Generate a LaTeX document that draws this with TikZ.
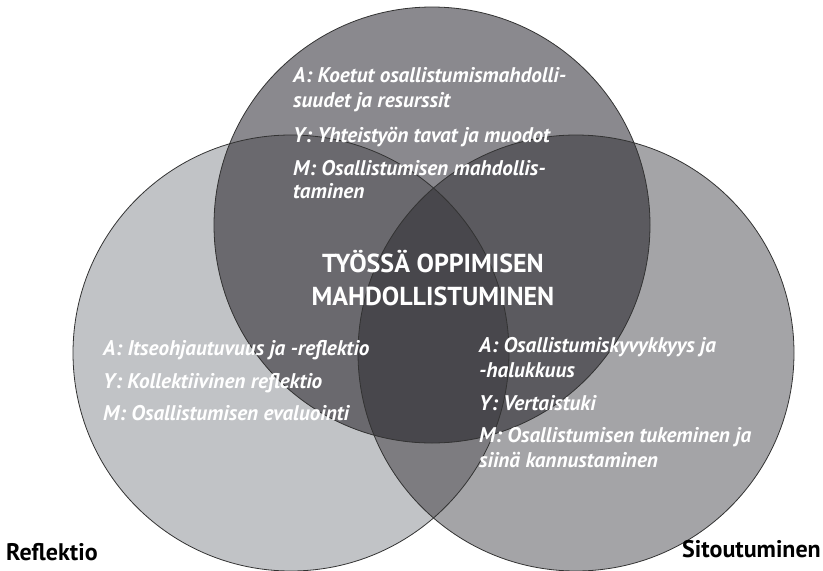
\documentclass[tikz,border=0pt]{standalone}
\usepackage{fontspec}
\setmainfont{PT Sans}
\begin{document}
\begin{tikzpicture}[x=1pt,y=-1pt,
  ring/.style={draw=black!80,line width=0.8pt},
  item/.style={anchor=base west,inner sep=0pt,text=white,font=\fontsize{21.2}{21.2}\selectfont\bfseries\itshape},
  title/.style={anchor=base,inner sep=0pt,text=white,font=\fontsize{26}{26}\selectfont\bfseries},
  setlabel/.style={anchor=base west,inner sep=0pt,text=black,font=\fontsize{24}{24}\selectfont\bfseries}]
\definecolor{cTop}{RGB}{138,137,142}
\definecolor{cLeft}{RGB}{193,195,198}
\definecolor{cRight}{RGB}{164,164,167}
\definecolor{cTL}{RGB}{106,105,110}
\definecolor{cTR}{RGB}{91,90,95}
\definecolor{cLR}{RGB}{125,124,128}
\definecolor{cAll}{RGB}{72,71,76}
\useasboundingbox (0,0) rectangle (823,571);
\def\rr{218}
\coordinate (T) at (432,225);
\coordinate (L) at (291,353);
\coordinate (R) at (576,353);
% single regions
\fill[cLeft] (L) circle (\rr);
\fill[cRight] (R) circle (\rr);
\fill[cTop] (T) circle (\rr);
% pairwise overlaps
\begin{scope}
  \clip (L) circle (\rr);
  \fill[cLR] (R) circle (\rr);
\end{scope}
\begin{scope}
  \clip (T) circle (\rr);
  \fill[cTL] (L) circle (\rr);
\end{scope}
\begin{scope}
  \clip (T) circle (\rr);
  \fill[cTR] (R) circle (\rr);
\end{scope}
% common core
\begin{scope}
  \clip (T) circle (\rr);
  \clip (L) circle (\rr);
  \fill[cAll] (R) circle (\rr);
\end{scope}
% outlines
\draw[ring] (L) circle (\rr);
\draw[ring] (R) circle (\rr);
\draw[ring] (T) circle (\rr);
% top set
\node[item] (ta1) at (293,82) {A: Koetut osallistumismahdolli-};
\node[item] (ta2) at (293,107) {suudet ja resurssit};
\node[item] (ty) at (293,142) {Y: Yhteistyön tavat ja muodot};
\node[item] (tm1) at (293,175) {M: Osallistumisen mahdollis-};
\node[item] (tm2) at (293,198) {taminen};
% centre
\node[title] (c1) at (433,272) {TYÖSSÄ OPPIMISEN};
\node[title] (c2) at (433,305) {MAHDOLLISTUMINEN};
% left set
\node[item] (la) at (103,355) {A: Itseohjautuvuus ja -reflektio};
\node[item] (ly) at (103,388) {Y: Kollektiivinen reflektio};
\node[item] (lm) at (103,420) {M: Osallistumisen evaluointi};
% right set
\node[item] (ra1) at (479,352) {A: Osallistumiskyvykkyys ja};
\node[item] (ra2) at (479,377) {-halukkuus};
\node[item] (ry) at (479,410) {Y: Vertaistuki};
\node[item] (rm1) at (479,442) {M: Osallistumisen tukeminen ja};
\node[item] (rm2) at (479,467) {siinä kannustaminen};
% set names
\node[setlabel] (nl) at (6,560) {Reflektio};
\node[setlabel,anchor=base east] (nr) at (821,557) {Sitoutuminen};
\end{tikzpicture}
\end{document}
